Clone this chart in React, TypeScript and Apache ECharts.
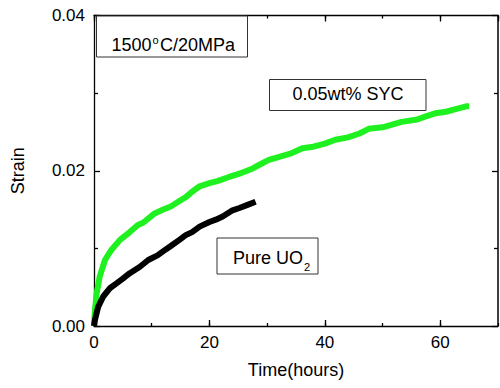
import React, { useEffect, useRef } from "react";
import * as echarts from "echarts";

const sycTime = [0, 0.17, 0.46, 1.0, 1.9, 3.0, 4.5, 6.2, 7.6, 8.5, 10.5, 12, 13.3, 14.8, 15.9, 17, 18.3, 20, 21.5, 23.4, 25.5, 27.5, 29, 30.3, 32.1, 34, 36.1, 38, 40, 41.8, 44, 46, 47.6, 50, 51.5, 53.3, 56, 57.5, 59.1, 61, 62.5, 64.5, 65];
const sycStrain = [0, 0.0021, 0.0042, 0.0064, 0.0085, 0.0098, 0.0111, 0.0121, 0.013, 0.0133, 0.0145, 0.015, 0.0154, 0.0161, 0.0166, 0.0173, 0.018, 0.0184, 0.0187, 0.0192, 0.0197, 0.0203, 0.0209, 0.0214, 0.0218, 0.0222, 0.0229, 0.0231, 0.0235, 0.024, 0.0243, 0.0248, 0.0254, 0.0256, 0.0259, 0.0263, 0.0266, 0.027, 0.0274, 0.0276, 0.0279, 0.0283, 0.0283];

const pureTime = [0, 0.17, 0.74, 1.6, 2.8, 3.9, 5.0, 6.2, 7.9, 9.4, 11, 12.5, 13.3, 14.8, 15.9, 17, 18.3, 20, 21.1, 22.3, 24, 25.2, 26.6, 28];
const pureStrain = [0, 0.0008, 0.0025, 0.0038, 0.0049, 0.0055, 0.0061, 0.0068, 0.0076, 0.0085, 0.0091, 0.0099, 0.0103, 0.0111, 0.0117, 0.0121, 0.0128, 0.0134, 0.0137, 0.0141, 0.0149, 0.0152, 0.0156, 0.016];

const xTickLabels = ["0", "20", "40", "60"];
const yTickLabels = ["0.00", "0.02", "0.04"];

const FONT = "Liberation Sans, Arial, sans-serif";

export default function App() {
  const ref = useRef<HTMLDivElement>(null);
  useEffect(() => {
    if (!ref.current) return;
    const chart = echarts.init(ref.current, null, { renderer: "svg" });
    const axisBase = {
      type: "value" as const,
      min: 0,
      max: 70,
      splitLine: { show: false },
    };
    const lineStyle = { color: "#000", width: 1.3 };
    chart.setOption({
      animation: false,
      backgroundColor: "#fff",
      grid: { left: 94, right: 2, top: 15.5, bottom: 62 },
      xAxis: [
        {
          ...axisBase,
          position: "bottom",
          interval: 20,
          name: "Time(hours)",
          nameLocation: "middle",
          nameGap: 35,
          nameTextStyle: { fontFamily: FONT, fontSize: 18, color: "#000" },
          axisLine: { onZero: false, lineStyle },
          axisTick: { inside: true, length: 6, lineStyle },
          axisLabel: {
            margin: 8,
            fontFamily: FONT,
            fontSize: 17,
            color: "#000",
            showMaxLabel: false,
            formatter: (v: number) => {
              const i = xTickLabels.indexOf(String(v));
              return i >= 0 ? xTickLabels[i] : "";
            },
          },
        },
        {
          ...axisBase,
          position: "bottom",
          interval: 10,
          axisLine: { show: false, onZero: false },
          axisTick: { show: true, inside: true, length: 3, lineStyle },
          axisLabel: { show: false },
        },
        {
          ...axisBase,
          position: "top",
          interval: 20,
          axisLine: { onZero: false, lineStyle },
          axisTick: { inside: true, length: 6, lineStyle },
          axisLabel: { show: false },
        },
        {
          ...axisBase,
          position: "top",
          interval: 10,
          axisLine: { show: false, onZero: false },
          axisTick: { show: true, inside: true, length: 3, lineStyle },
          axisLabel: { show: false },
        },
      ],
      yAxis: [
        {
          type: "value",
          min: 0,
          max: 0.04,
          interval: 0.02,
          position: "left",
          name: "Strain",
          nameLocation: "middle",
          nameGap: 67,
          nameTextStyle: { fontFamily: FONT, fontSize: 18, color: "#000" },
          splitLine: { show: false },
          axisLine: { show: true, onZero: false, lineStyle },
          axisTick: { show: true, inside: true, length: 6, lineStyle },
          minorTick: { show: true, splitNumber: 2, length: 4, lineStyle },
          axisLabel: {
            margin: 9,
            fontFamily: FONT,
            fontSize: 17,
            color: "#000",
            formatter: (v: number) => {
              const s = v.toFixed(2);
              return yTickLabels.indexOf(s) >= 0 ? s : "";
            },
          },
        },
        {
          type: "value",
          min: 0,
          max: 0.04,
          interval: 0.02,
          position: "right",
          offset: 0,
          splitLine: { show: false },
          axisLine: { show: true, onZero: false, lineStyle: { color: "#000", width: 1.5 } },
          axisTick: { show: true, inside: true, length: 6, lineStyle },
          minorTick: { show: true, splitNumber: 2, length: 4, lineStyle },
          axisLabel: { show: false },
        },
      ],
      series: [
        {
          type: "line",
          xAxisIndex: 0,
          yAxisIndex: 0,
          data: sycTime.map((t, i) => [t, sycStrain[i]]),
          showSymbol: false,
          lineStyle: { color: "#1ff01f", width: 6 },
          z: 3,
        },
        {
          type: "line",
          xAxisIndex: 0,
          yAxisIndex: 0,
          data: pureTime.map((t, i) => [t, pureStrain[i]]),
          showSymbol: false,
          lineStyle: { color: "#000", width: 6 },
          z: 3,
        },
      ],
      graphic: [
        {
          type: "rect",
          shape: { x: 96.5, y: 16, width: 151, height: 41 },
          style: { fill: "#fff", stroke: "#333", lineWidth: 1 },
          z: 10,
        },
        {
          type: "text",
          x: 111.5,
          y: 45,
          style: { text: "1500", font: `18px ${FONT}`, fill: "#000", verticalAlign: "middle" },
          z: 11,
        },
        {
          type: "text",
          x: 152.5,
          y: 40,
          style: { text: "o", font: `11px ${FONT}`, fill: "#000", verticalAlign: "middle" },
          z: 11,
        },
        {
          type: "text",
          x: 160,
          y: 45,
          style: { text: "C/20MPa", font: `18px ${FONT}`, fill: "#000", verticalAlign: "middle" },
          z: 11,
        },
        {
          type: "rect",
          shape: { x: 269.5, y: 79.5, width: 156.5, height: 31 },
          style: { fill: "#fff", stroke: "#333", lineWidth: 1 },
          z: 10,
        },
        {
          type: "text",
          x: 348,
          y: 94,
          style: { text: "0.05wt% SYC", font: `18px ${FONT}`, fill: "#000", align: "center", verticalAlign: "middle" },
          z: 11,
        },
        {
          type: "rect",
          shape: { x: 217, y: 238, width: 101, height: 36 },
          style: { fill: "#fff", stroke: "#333", lineWidth: 1 },
          z: 10,
        },
        {
          type: "text",
          x: 233,
          y: 258,
          style: { text: "Pure UO", font: `18px ${FONT}`, fill: "#000", verticalAlign: "middle" },
          z: 11,
        },
        {
          type: "text",
          x: 304,
          y: 267,
          style: { text: "2", font: `11px ${FONT}`, fill: "#000", verticalAlign: "middle" },
          z: 11,
        },
      ],
    });
    return () => chart.dispose();
  }, []);
  return (
    <div
      ref={ref}
      style={{ position: "absolute", left: 0, top: 0, width: 500, height: 388 }}
    />
  );
}
